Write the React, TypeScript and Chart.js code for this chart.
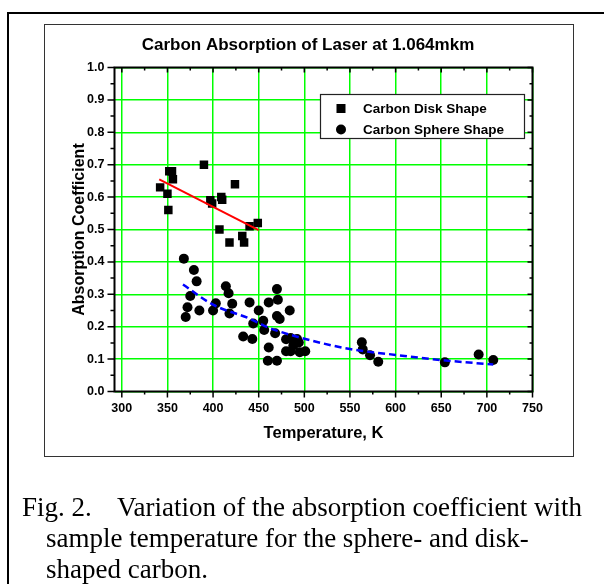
import React, { useEffect, useRef } from "react";
import { Chart, registerables } from "chart.js";

Chart.register(...registerables);

const chartTitle = "Carbon Absorption of Laser at 1.064mkm";
const xAxisTitle = "Temperature, K";
const yAxisTitle = "Absorption Coefficient";
const diskLabel = "Carbon Disk Shape";
const sphereLabel = "Carbon Sphere Shape";
const captionLabel = "Fig. 2.";
const captionLines = [
  "Variation of the absorption coefficient with",
  "sample temperature for the sphere- and disk-",
  "shaped carbon.",
];

const xMin = 292;
const xMax = 750;
const xTickValues = [300, 350, 400, 450, 500, 550, 600, 650, 700, 750];
const xMinorTickValues = [325, 375, 425, 475, 525, 575, 625, 675, 725];
const yTickValues = [0, 0.1, 0.2, 0.3, 0.4, 0.5, 0.6, 0.7, 0.8, 0.9, 1.0];
const yMinorTickValues = [0.05, 0.15, 0.25, 0.35, 0.45, 0.55, 0.65, 0.75, 0.85, 0.95];

const diskTemps = [342, 350, 351, 352, 355, 356, 390, 397, 399, 409, 410, 424, 407, 418, 432, 434, 440, 449];
const diskAbs = [0.63, 0.61, 0.56, 0.68, 0.68, 0.655, 0.70, 0.59, 0.58, 0.60, 0.592, 0.64, 0.50, 0.46, 0.48, 0.46, 0.51, 0.52];

const sphereTemps = [
  368, 379, 382, 375, 372, 370, 385, 403, 400, 414, 417, 421, 418, 440, 450, 444, 455, 456, 433, 443,
  461, 470, 471, 470, 473, 484, 468, 461, 460, 470, 480, 485, 480, 485, 488, 492, 494, 495, 501,
  563, 564, 572, 581, 654, 691, 707,
];
const sphereAbs = [
  0.41, 0.375, 0.34, 0.295, 0.26, 0.23, 0.25, 0.272, 0.25, 0.325, 0.303, 0.271, 0.241, 0.275, 0.25, 0.21, 0.218, 0.19, 0.17, 0.162,
  0.275, 0.316, 0.283, 0.233, 0.224, 0.25, 0.18, 0.136, 0.095, 0.095, 0.161, 0.165, 0.124, 0.124, 0.142, 0.162, 0.151, 0.121, 0.124,
  0.152, 0.13, 0.112, 0.092, 0.09, 0.114, 0.097,
];

const diskFitTemps = [341, 450];
const diskFitAbs = [0.655, 0.498];

const sphereFitTemps = [367, 400, 440, 460, 500, 550, 600, 650, 707];
const sphereFitAbs = [0.33, 0.268, 0.225, 0.198, 0.163, 0.131, 0.113, 0.097, 0.083];

const SANS = "'Liberation Sans', Arial, Helvetica, sans-serif";
const SERIF = "'Liberation Serif', 'Times New Roman', serif";

const toPoints = (xs: number[], ys: number[]) => xs.map((x, i) => ({ x, y: ys[i] }));

const headingPlugin = {
  id: "heading",
  afterDraw(chart: any) {
    const opts = chart.options.plugins.heading || {};
    const { ctx } = chart;
    ctx.save();
    ctx.fillStyle = "#000";
    ctx.font = `bold 17px ${SANS}`;
    ctx.textAlign = "center";
    ctx.textBaseline = "middle";
    ctx.fillText(opts.text || "", 308, 45);
    ctx.restore();
  },
};

const frameTicksPlugin = {
  id: "frameTicks",
  afterDatasetsDraw(chart: any) {
    const { ctx, chartArea: a, scales } = chart;
    const xs = scales.x;
    const ys = scales.y;
    ctx.save();
    ctx.strokeStyle = "#000";
    ctx.lineWidth = 1.5;
    ctx.beginPath();
    xTickValues.forEach((v) => {
      const px = xs.getPixelForValue(v);
      ctx.moveTo(px, a.bottom);
      ctx.lineTo(px, a.bottom + 6);
      ctx.moveTo(px, a.top);
      ctx.lineTo(px, a.top + 5);
    });
    xMinorTickValues.forEach((v) => {
      const px = xs.getPixelForValue(v);
      ctx.moveTo(px, a.bottom);
      ctx.lineTo(px, a.bottom + 3);
      ctx.moveTo(px, a.top);
      ctx.lineTo(px, a.top + 3);
    });
    yTickValues.forEach((v) => {
      const py = ys.getPixelForValue(v);
      ctx.moveTo(a.left - 7, py);
      ctx.lineTo(a.left, py);
      ctx.moveTo(a.right - 5, py);
      ctx.lineTo(a.right, py);
    });
    yMinorTickValues.forEach((v) => {
      const py = ys.getPixelForValue(v);
      ctx.moveTo(a.left - 4, py);
      ctx.lineTo(a.left, py);
      ctx.moveTo(a.right - 3, py);
      ctx.lineTo(a.right, py);
    });
    ctx.stroke();
    ctx.lineWidth = 2;
    ctx.strokeRect(a.left, a.top, a.right - a.left, a.bottom - a.top);
    ctx.restore();
  },
};

const boxLegendPlugin = {
  id: "boxLegend",
  afterDraw(chart: any) {
    const { ctx, chartArea: a } = chart;
    const left = a.left + 206;
    const top = a.top + 27;
    const w = 204;
    const h = 44;
    ctx.save();
    ctx.fillStyle = "#fff";
    ctx.fillRect(left, top, w, h);
    ctx.strokeStyle = "#222";
    ctx.lineWidth = 1.2;
    ctx.strokeRect(left, top, w, h);
    const items = chart.data.datasets.filter((d: any) => d.showInBoxLegend);
    ctx.font = `bold 13.5px ${SANS}`;
    ctx.textBaseline = "middle";
    ctx.textAlign = "left";
    items.forEach((d: any, i: number) => {
      const cy = top + 14 + i * 21;
      const cx = left + 20.5;
      ctx.fillStyle = "#000";
      if (d.pointStyle === "rect") {
        ctx.fillRect(cx - 4.5, cy - 4.5, 9, 9);
      } else {
        ctx.beginPath();
        ctx.arc(cx, cy, 5, 0, Math.PI * 2);
        ctx.fill();
      }
      ctx.fillText(d.label, left + 42.5, cy + 0.5);
    });
    ctx.restore();
  },
};

export default function App() {
  const ref = useRef<HTMLCanvasElement>(null);

  useEffect(() => {
    const canvas = ref.current;
    if (!canvas) return;
    const chart = new Chart(canvas, {
      type: "scatter",
      data: {
        datasets: [
          {
            type: "line",
            label: "Disk fit",
            data: toPoints(diskFitTemps, diskFitAbs),
            borderColor: "#ff0000",
            borderWidth: 2,
            pointRadius: 0,
            fill: false,
            order: 0,
          } as any,
          {
            type: "line",
            label: "Sphere fit",
            data: toPoints(sphereFitTemps, sphereFitAbs),
            borderColor: "#0000ff",
            borderWidth: 2.5,
            borderDash: [7, 4],
            pointRadius: 0,
            fill: false,
            cubicInterpolationMode: "monotone",
            order: 0,
          } as any,
          {
            label: diskLabel,
            data: toPoints(diskTemps, diskAbs),
            pointStyle: "rect",
            pointRadius: 6,
            backgroundColor: "#000",
            borderWidth: 0,
            order: 1,
            showInBoxLegend: true,
          } as any,
          {
            label: sphereLabel,
            data: toPoints(sphereTemps, sphereAbs),
            pointStyle: "circle",
            pointRadius: 5,
            backgroundColor: "#000",
            borderWidth: 0,
            order: 1,
            showInBoxLegend: true,
          } as any,
        ],
      },
      options: {
        responsive: false,
        animation: false,
        events: [],
        layout: { padding: { left: 44, right: 71.5, top: 67.5, bottom: 134 } },
        plugins: {
          legend: { display: false },
          tooltip: { enabled: false },
          title: { display: false, text: chartTitle },
          heading: { text: chartTitle },
        },
        scales: {
          x: {
            type: "linear",
            position: "bottom",
            min: xMin,
            max: xMax,
            afterBuildTicks: (s: any) => {
              s.ticks = xTickValues.map((v) => ({ value: v }));
            },
            afterFit: (s: any) => {
              s.height = 58.5;
            },
            grid: { color: "#00ff00", lineWidth: 1.5, drawTicks: false },
            border: { display: false },
            ticks: {
              color: "#000",
              font: { family: SANS, size: 12.5, weight: "bold" },
              padding: 10,
              maxRotation: 0,
              autoSkip: false,
              callback: (v: any) => String(v),
            },
            title: {
              display: true,
              text: xAxisTitle,
              color: "#000",
              font: { family: SANS, size: 16.5, weight: "bold" },
              padding: { top: 0, bottom: 6.5 },
            },
          },
          y: {
            type: "linear",
            min: 0,
            max: 1,
            afterBuildTicks: (s: any) => {
              s.ticks = yTickValues.map((v) => ({ value: v }));
            },
            afterFit: (s: any) => {
              s.width = 70.5;
            },
            grid: { color: "#00ff00", lineWidth: 1.5, drawTicks: false },
            border: { display: false },
            ticks: {
              color: "#000",
              font: { family: SANS, size: 12.5, weight: "bold" },
              padding: 10,
              autoSkip: false,
              callback: (v: any) => Number(v).toFixed(1),
            },
            title: {
              display: true,
              text: yAxisTitle,
              color: "#000",
              font: { family: SANS, size: 16, weight: "bold" },
              padding: { top: 26.4, bottom: 0 },
            },
          },
        },
      } as any,
      plugins: [frameTicksPlugin, boxLegendPlugin, headingPlugin],
    });
    return () => chart.destroy();
  }, []);

  return (
    <div
      style={{
        position: "absolute",
        left: 0,
        top: 0,
        width: 604,
        height: 584,
        overflow: "hidden",
        background: "#fff",
      }}
    >
      <div
        style={{
          position: "absolute",
          left: 7,
          top: 12,
          width: 900,
          height: 900,
          border: "2px solid #000",
          boxSizing: "border-box",
        }}
      />
      <div
        style={{
          position: "absolute",
          left: 44,
          top: 24,
          width: 530,
          height: 433,
          border: "1px solid #333",
          boxSizing: "border-box",
        }}
      />
      <canvas
        ref={ref}
        width={604}
        height={584}
        style={{ position: "absolute", left: 0, top: 0, width: 604, height: 584 }}
      />
      <div
        style={{
          position: "absolute",
          left: 22,
          top: 492,
          fontFamily: SERIF,
          fontSize: 27,
          lineHeight: "31px",
          color: "#000",
          whiteSpace: "nowrap",
        }}
      >
        <div>
          <span style={{ display: "inline-block", width: 95 }}>{captionLabel}</span>
          {captionLines[0]}
        </div>
        <div style={{ paddingLeft: 24 }}>{captionLines[1]}</div>
        <div style={{ paddingLeft: 24 }}>{captionLines[2]}</div>
      </div>
    </div>
  );
}
